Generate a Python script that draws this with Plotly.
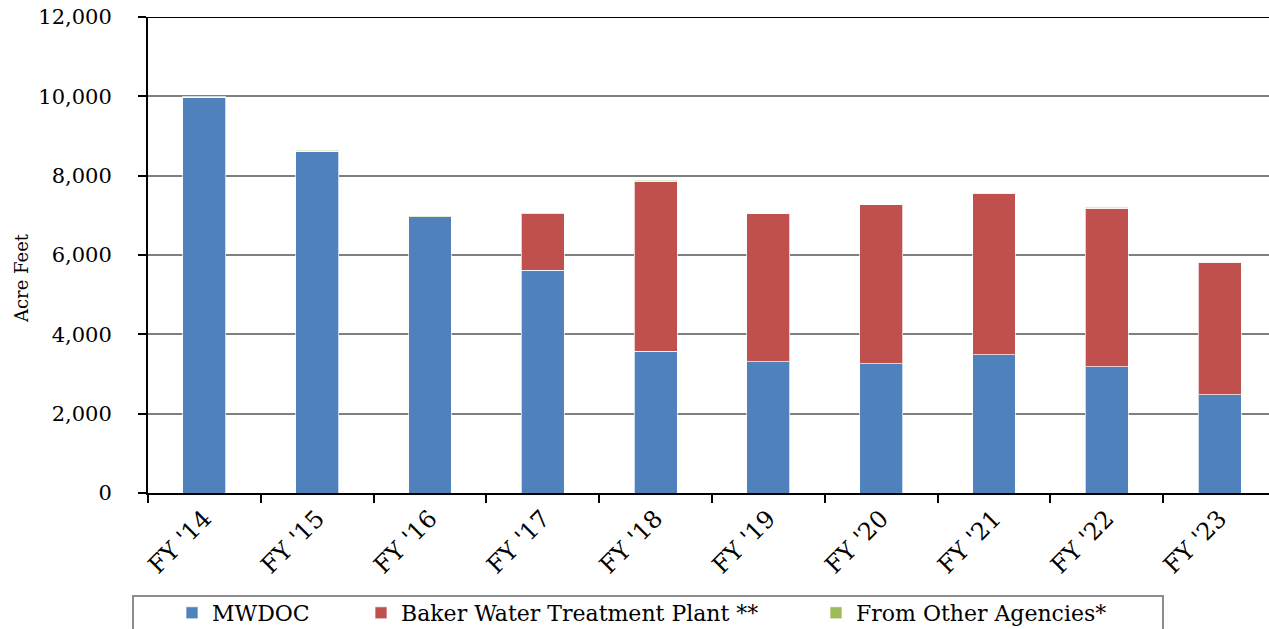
import plotly.graph_objects as go

categories = ["FY '14", "FY '15", "FY '16", "FY '17", "FY '18", "FY '19", "FY '20", "FY '21", "FY '22", "FY '23"]
mwdoc = [9975, 8610, 6965, 5615, 3575, 3310, 3260, 3480, 3185, 2480]
baker = [0, 0, 0, 1425, 4290, 3730, 4010, 4080, 3995, 3340]
other = [15, 25, 25, 25, 25, 0, 0, 0, 25, 0]
y_ticks = [0, 2000, 4000, 6000, 8000, 10000, 12000]

W, H = 1269, 629
L, R, T, B = 148, 0, 17, 136
pw, ph = W - L - R, H - T - B

def px_x(px):
    return (px - L) / pw

def px_y(py):
    return (H - B - py) / ph

FONT = "DejaVu Serif"
fig = go.Figure()
series = [
    ("MWDOC", mwdoc, "#4F81BD", "legend"),
    ("Baker Water Treatment Plant **", baker, "#C0504D", "legend2"),
    ("From Other Agencies*", other, "#9BBB59", "legend3"),
]
for name, vals, col, lg in series:
    fig.add_trace(go.Bar(
        x=categories, y=vals, name=name, width=0.38,
        marker=dict(color=col, line=dict(color="rgba(255,255,255,0.7)", width=1)),
        legend=lg, showlegend=True,
    ))

leg_common = dict(orientation="h", yanchor="middle", xanchor="left",
                   bgcolor="rgba(0,0,0,0)", borderwidth=0,
                   font=dict(family=FONT, size=22, color="black"))
fig.update_layout(
    barmode="stack",
    showlegend=True,
    width=W, height=H,
    margin=dict(l=L, r=R, t=T, b=B, pad=0, autoexpand=False),
    plot_bgcolor="white", paper_bgcolor="white",
    legend=dict(x=px_x(172), y=px_y(613), **leg_common),
    legend2=dict(x=px_x(361), y=px_y(613), **leg_common),
    legend3=dict(x=px_x(816), y=px_y(613), **leg_common),
    xaxis=dict(
        type="category", range=[-0.5, 9.5 - 7 / 112.8], automargin=False,
        tickson="boundaries", ticks="outside", ticklen=8, tickcolor="black", tickwidth=2,
        showline=True, linecolor="black", linewidth=2,
        tickangle=-45, tickfont=dict(family=FONT, size=24, color="black"),
        showgrid=False, zeroline=False,
    ),
    yaxis=dict(
        range=[0, 12000], tickvals=y_ticks, tickformat=",d", automargin=False,
        ticks="outside", ticklen=8, tickcolor="black", tickwidth=1.5,
        showline=True, linecolor="black", linewidth=2,
        showgrid=True, gridcolor="#7f7f7f", gridwidth=1.5,
        zeroline=False,
        tickfont=dict(family=FONT, size=21, color="black"),
        ticklabelstandoff=22,
    ),
    annotations=[
        dict(text="Acre Feet", xref="paper", yref="paper", x=px_x(21), y=px_y(278),
             xanchor="center", yanchor="middle", textangle=-90, showarrow=False,
             font=dict(family=FONT, size=18, color="black")),
    ],
    shapes=[
        dict(type="line", xref="paper", yref="y", x0=0, x1=1, y0=12000, y1=12000,
             line=dict(color="black", width=2)),
        dict(type="rect", xref="paper", yref="paper",
             x0=px_x(133), x1=px_x(1163), y0=px_y(645), y1=px_y(596),
             line=dict(color="#8c8c8c", width=2), fillcolor="rgba(0,0,0,0)", layer="below"),
    ],
)
fig.write_html(
    "out.html",
    config={"displayModeBar": False},
    post_script="document.body.style.margin='0';document.body.style.overflow='hidden';",
)
